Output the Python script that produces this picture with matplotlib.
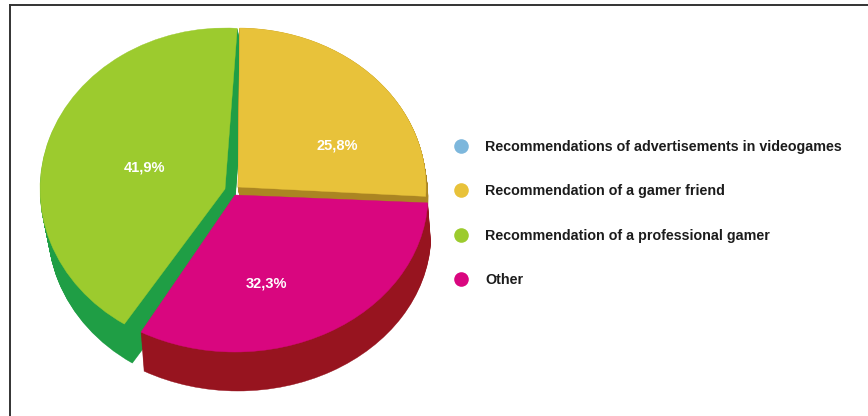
import numpy as np
import matplotlib
matplotlib.use("Agg")
import matplotlib.pyplot as plt
from matplotlib.patches import Wedge
from matplotlib.lines import Line2D
from matplotlib.transforms import Affine2D

categories = ["Recommendations of advertisements in videogames",
              "Recommendation of a gamer friend",
              "Recommendation of a professional gamer",
              "Other"]
shares = [0.0, 25.8, 41.9, 32.3]
share_labels = ["", "25,8%", "41,9%", "32,3%"]
top_colors = ["#7db7dc", "#e8c23a", "#9ccb2e", "#d9067f"]
side_colors = ["#5a90b0", "#ab8522", "#1f9e45", "#97141f"]
# slices run clockwise from the top in this order
pie_order = [1, 3, 2]

plt.rcParams["font.family"] = ["Liberation Sans", "DejaVu Sans"]

fig = plt.figure(figsize=(8.68, 4.16), dpi=100)
ax = fig.add_axes([0, 0, 1, 1])
ax.set_xlim(0, 868)
ax.set_ylim(416, 0)
ax.axis("off")

# per slice: centre, radii, extrusion in pixels, rotation in degrees
centers = [(235, 190), (238, 187), (225, 189), (235, 195)]
radii = [(192, 162), (188, 159), (185, 161), (193, 157)]
depth = [(0, 0), (2, 12), (8, 39), (3, 39)]
rotation = [0, -0.5, -3.8, 0]
label_pos = [(0, 0), (337, 145), (144, 167), (266, 284)]


def draw_slice(cx, cy, rx, ry, t1, t2, color):
    # unit wedge stretched to an ellipse, y flipped by the axes
    w = Wedge((0, 0), 1, -t2, -t1, facecolor=color, edgecolor=color, lw=0.3)
    w.set_transform(Affine2D().scale(rx, ry).translate(cx, cy) + ax.transData)
    ax.add_patch(w)


angles = {}
start = 90.0
for i in pie_order:
    angles[i] = (start - shares[i] * 3.6 + rotation[i], start + rotation[i])
    start -= shares[i] * 3.6

for i in [2, 1, 3]:
    t1, t2 = angles[i]
    cx, cy = centers[i]
    rx, ry = radii[i]
    dx, dy = depth[i]
    # side wall
    for f in np.linspace(1, 0, 45)[:-1]:
        draw_slice(cx + dx * f, cy + dy * f, rx, ry, t1, t2, side_colors[i])
    draw_slice(cx, cy, rx, ry, t1, t2, top_colors[i])

for i in pie_order:
    ax.text(label_pos[i][0], label_pos[i][1], share_labels[i], color="white",
            fontsize=10.5, fontweight="bold", ha="center", va="center")

handles = [Line2D([], [], linestyle="none", marker="o", markersize=10.5,
                  markerfacecolor=c, markeredgecolor="none") for c in top_colors]
fig.legend(handles, categories, loc="upper left", bbox_to_anchor=(447 / 868, 1 - 140 / 416),
           frameon=False, labelspacing=2.13, handletextpad=0.66,
           borderaxespad=0, borderpad=0, prop={"weight": "bold", "size": 10.3},
           labelcolor="#1c1c1c")

# frame round the picture
ax.plot([10, 10], [416, 5], color="#333333", lw=1.4)
ax.plot([10, 868], [5, 5], color="#333333", lw=1.4)

fig.savefig("out.png", dpi=100)
